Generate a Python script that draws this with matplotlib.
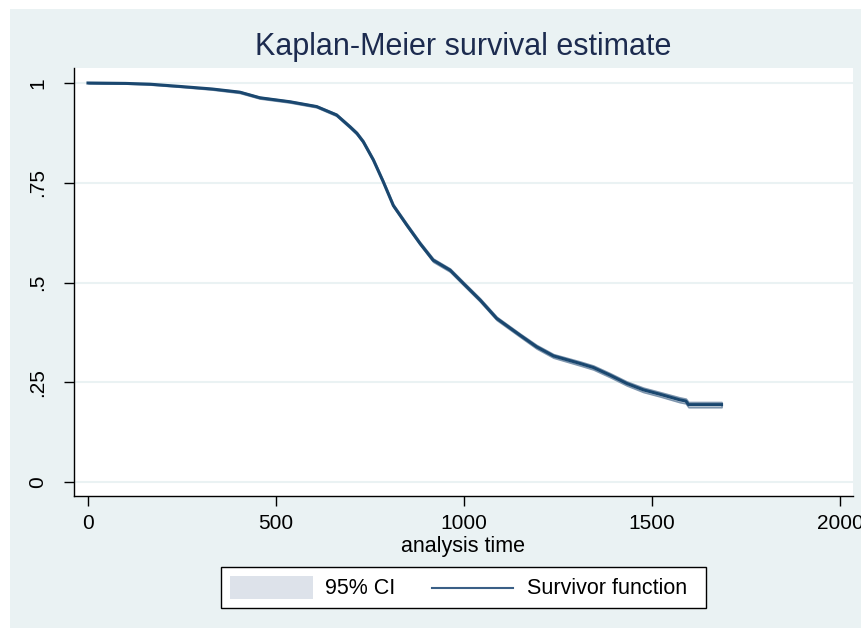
import numpy as np
import matplotlib.pyplot as plt
from matplotlib.patches import Rectangle
from matplotlib.lines import Line2D

# Kaplan-Meier estimate
time = [0, 100, 165, 250, 330, 404, 457, 537, 608, 661, 697, 715, 732, 759,
        785, 812, 848, 883, 918, 963, 998, 1043, 1087, 1149, 1193, 1238, 1309,
        1344, 1388, 1433, 1477, 1521, 1574, 1590, 1597, 1685]
surv = [1.0, 0.999, 0.997, 0.991, 0.985, 0.977, 0.963, 0.953, 0.941, 0.920,
        0.890, 0.874, 0.853, 0.807, 0.753, 0.693, 0.644, 0.598, 0.556, 0.531,
        0.498, 0.456, 0.410, 0.368, 0.339, 0.316, 0.297, 0.287, 0.268, 0.247,
        0.231, 0.220, 0.206, 0.203, 0.194, 0.194]
# half width of the 95% CI
ci_half = [0.0, 0.0005, 0.001, 0.001, 0.0015, 0.002, 0.002, 0.002, 0.002,
           0.0025, 0.003, 0.003, 0.003, 0.003, 0.003, 0.003, 0.0035, 0.0035,
           0.004, 0.004, 0.004, 0.004, 0.004, 0.004, 0.0045, 0.0045, 0.005,
           0.005, 0.005, 0.005, 0.0055, 0.0055, 0.006, 0.006, 0.0065, 0.0065]

x_ticks = [0, 500, 1000, 1500, 2000]
y_ticks = [0, 0.25, 0.5, 0.75, 1]
y_tick_labels = ['0', '.25', '.5', '.75', '1']
legend_labels = ['95% CI', 'Survivor function']

plt.rcParams['font.family'] = ['Liberation Sans', 'DejaVu Sans']

bg = '#eaf2f3'
navy = '#1a476f'
title_col = '#1c2b4f'
W, H = 862, 628


def fx(px):
    return px / W


def fy(py):
    return 1 - py / H


fig = plt.figure(figsize=(W / 100, H / 100), dpi=100)
fig.patch.set_facecolor('white')
# outer graph region (the image is cropped on the right/bottom)
fig.add_artist(Rectangle((fx(10), 0), 1, fy(9), transform=fig.transFigure,
                         facecolor=bg, edgecolor='none', zorder=-10))

ax = fig.add_axes([fx(74), fy(496), fx(853 - 74), (496 - 68) / H])
ax.set_facecolor('white')

t = np.array(time)
s = np.array(surv)
h = np.array(ci_half)

ax.fill_between(t, s - h, s + h, facecolor='#dde3ea', edgecolor='#7f96ae',
                linewidth=1.2, zorder=2)
ax.plot(t, s, color=navy, linewidth=2.2, zorder=3, solid_joinstyle='round')

ax.set_xlim(-37.2, 2034.6)
ax.set_ylim(-0.035, 1.0376)
ax.set_xticks(x_ticks)
ax.set_yticks(y_ticks)
ax.set_yticklabels(y_tick_labels, rotation=90, va='center')
ax.yaxis.grid(True, color=bg, linewidth=1.5, zorder=0)
ax.set_axisbelow(True)

for side in ['top', 'right']:
    ax.spines[side].set_visible(False)
for side in ['left', 'bottom']:
    ax.spines[side].set_linewidth(1.0)
    ax.spines[side].set_color('black')

ax.tick_params(axis='both', direction='out', length=7, width=1.0,
               labelsize=15, colors='black')
ax.tick_params(axis='x', pad=6)
ax.tick_params(axis='y', pad=12)

ax.set_xlabel('analysis time', fontsize=15.5, labelpad=2)
fig.text(fx(463.5), fy(47), 'Kaplan-Meier survival estimate',
         fontsize=22, color=title_col, ha='center', va='center')

# legend drawn by hand to match the box layout
fig.add_artist(Rectangle((fx(221), fy(608)), fx(706 - 221), (608 - 567) / H,
                         transform=fig.transFigure, facecolor='white',
                         edgecolor='black', linewidth=1.0))
fig.add_artist(Rectangle((fx(230), fy(599)), fx(313 - 230), (599 - 576) / H,
                         transform=fig.transFigure, facecolor='#dde2ea',
                         edgecolor='none'))
fig.add_artist(Line2D([fx(432), fx(513)], [fy(587.5), fy(587.5)],
                      transform=fig.transFigure, color='#3a5f86', linewidth=1.5))
fig.text(fx(325), fy(588), legend_labels[0], fontsize=15.5, ha='left', va='center')
fig.text(fx(527), fy(588), legend_labels[1], fontsize=15.5, ha='left', va='center')

fig.savefig('out.png', dpi=100)
